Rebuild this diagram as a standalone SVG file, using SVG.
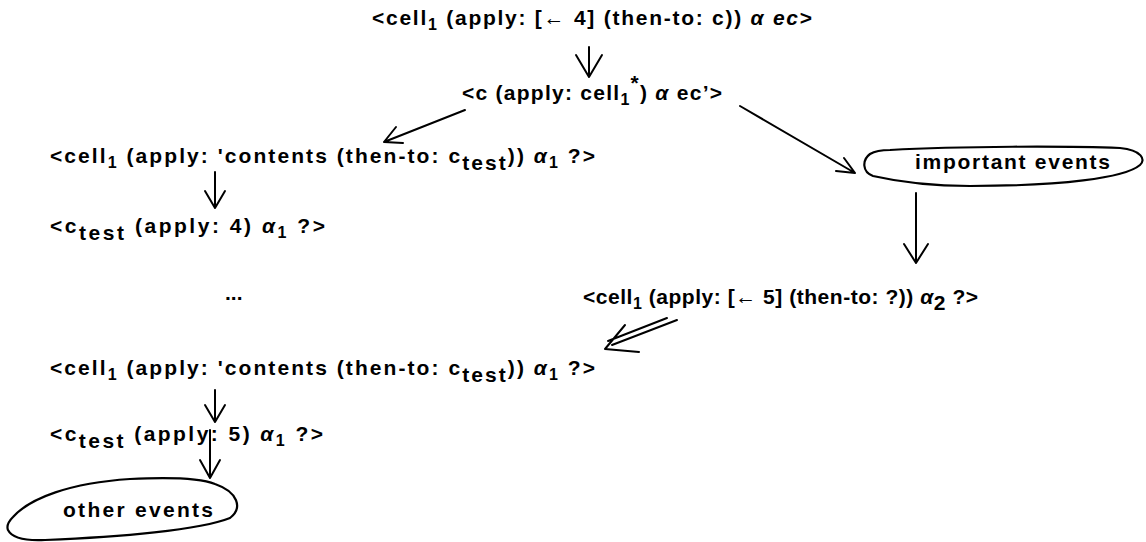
<svg xmlns="http://www.w3.org/2000/svg" width="1146" height="542" viewBox="0 0 1146 542">
<style>
text{font-family:"Liberation Sans",Arial,sans-serif;font-weight:bold;font-size:21px;fill:#000}
.sub{font-size:16px}
.it{font-style:italic}
.ln{fill:none;stroke:#000;stroke-width:2;stroke-linecap:round;stroke-linejoin:round}
.blob{fill:none;stroke:#000;stroke-width:2.2;stroke-linejoin:round}
</style>
<rect width="1146" height="542" fill="#fff"/>
<g id="n1"><text x="372" y="25" textLength="440" lengthAdjust="spacing">&lt;cell<tspan class="sub" dy="5">1</tspan><tspan dy="-5"> (apply: [← 4] (then-to: c)) </tspan><tspan class="it">α ec</tspan>&gt;</text></g>
<g id="n2"><text x="462" y="100" textLength="260" lengthAdjust="spacing">&lt;c (apply: cell<tspan class="sub" dy="5">1</tspan><tspan dy="-15">*</tspan><tspan dy="10">) </tspan><tspan class="it">α</tspan> ec’&gt;</text></g>
<g id="n3"><text x="50" y="163" textLength="545" lengthAdjust="spacing">&lt;cell<tspan class="sub" dy="5">1</tspan><tspan dy="-5"> (apply: 'contents (then-to: c</tspan><tspan dy="7">test</tspan><tspan dy="-7">)) </tspan><tspan class="it">α</tspan><tspan class="sub" dy="5">1</tspan><tspan dy="-5"> ?&gt;</tspan></text></g>
<g id="n4"><text x="50" y="233" textLength="275" lengthAdjust="spacing">&lt;c<tspan dy="7">test</tspan><tspan dy="-7"> (apply: 4) </tspan><tspan class="it">α</tspan><tspan class="sub" dy="5">1</tspan><tspan dy="-5"> ?&gt;</tspan></text></g>
<g id="dots"><text x="225" y="300">...</text></g>
<g id="n5"><text x="583" y="304" textLength="395" lengthAdjust="spacing">&lt;cell<tspan class="sub" dy="5">1</tspan><tspan dy="-5"> (apply: [← 5] (then-to: ?)) </tspan><tspan class="it">α</tspan><tspan dy="6">2</tspan><tspan dy="-6"> ?&gt;</tspan></text></g>
<g id="n6"><text x="50" y="375" textLength="545" lengthAdjust="spacing">&lt;cell<tspan class="sub" dy="5">1</tspan><tspan dy="-5"> (apply: 'contents (then-to: c</tspan><tspan dy="7">test</tspan><tspan dy="-7">)) </tspan><tspan class="it">α</tspan><tspan class="sub" dy="5">1</tspan><tspan dy="-5"> ?&gt;</tspan></text></g>
<g id="n7"><text x="50" y="441" textLength="273" lengthAdjust="spacing">&lt;c<tspan dy="7">test</tspan><tspan dy="-7"> (apply: 5) </tspan><tspan class="it">α</tspan><tspan class="sub" dy="5">1</tspan><tspan dy="-5"> ?&gt;</tspan></text></g>
<g id="important"><path class="blob" d="M890,150 C960,146 1070,146 1120,148 C1142,150 1146,160 1140,165 C1125,178 1060,186 970,186 C930,186 895,181 873,176 C862,172 862,160 870,154 C875,151 882,150 890,150 Z"/><text x="915" y="169" textLength="195" lengthAdjust="spacing">important events</text></g>
<g id="other"><path class="blob" d="M13,517 C30,498 70,483 130,479 C170,477 200,478 215,484 C238,492 243,508 230,518 C200,530 120,537 45,540 C25,541 12,538 8,530 C6,525 9,521 13,517 Z"/><text x="63" y="517" textLength="150" lengthAdjust="spacing">other events</text></g>
<g id="connectors">
<path class="ln" d="M589,47 V76 M576,55 L589,77 L602,55"/>
<path class="ln" d="M465,110 L384,142 M396,127 L384,142 L403,143"/>
<path class="ln" d="M740,106 L855,173 M836,171 L855,173 L844,158"/>
<path class="ln" d="M215,172 V207 M205,191 L215,208 L225,191"/>
<path class="ln" d="M916,193 V262 M904,244 L916,263 L928,244"/>
<path class="ln" d="M677,320 L612,345 M667,318 L608,341 M625,325 L605,349 L639,352"/>
<path class="ln" d="M215,390 V421 M205,405 L215,422 L225,405"/>
<path class="ln" d="M210,430 V477 M200,460 L210,478 L220,460"/>
</g>
</svg>
